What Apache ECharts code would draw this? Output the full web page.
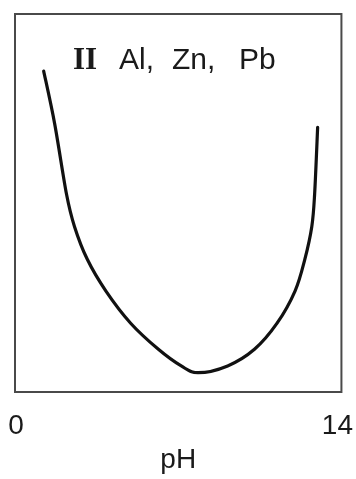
<!DOCTYPE html>
<html>
<head>
<meta charset="utf-8">
<script src="https://cdn.jsdelivr.net/npm/echarts@6/dist/echarts.min.js"></script>
<style>
  html, body { margin: 0; padding: 0; background: #fff; }
  #chart { width: 356px; height: 479px; }
</style>
</head>
<body>
<div id="chart"></div>
<script>
// Solubility (relative) of amphoteric metals versus pH
const phPoints = [1.23, 1.70, 2.21, 2.55, 3.10, 3.90, 4.96, 6.15, 7.13, 7.85, 9.12, 10.27, 11.24, 12.01, 12.43, 12.73, 12.85, 12.98];
const solubility = [84.9, 71.0, 52.3, 43.8, 35.1, 26.7, 18.2, 11.3, 6.9, 5.1, 6.9, 11.3, 18.2, 26.7, 35.1, 43.8, 52.3, 70.0];
const xTicks = [0, 14];
const xName = 'pH';
const groupLabel = 'II';
const metals = ['Al', 'Zn', 'Pb'];

const FONT = '"Liberation Sans", Arial, sans-serif';

const chart = echarts.init(document.getElementById('chart'), null, { renderer: 'canvas' });

// Smooth curve through the points: pixel positions come from the axes (api.coord),
// then consecutive points are joined with Catmull-Rom cubic segments.
function renderCurve(params, api) {
  if (params.dataIndex !== 0) return null;
  const pts = phPoints.map((p, i) => api.coord([p, solubility[i]]));
  const n = pts.length;
  let d = 'M' + pts[0][0] + ' ' + pts[0][1];
  for (let i = 0; i < n - 1; i++) {
    const p0 = pts[Math.max(i - 1, 0)];
    const p1 = pts[i];
    const p2 = pts[i + 1];
    const p3 = pts[Math.min(i + 2, n - 1)];
    const c1x = p1[0] + (p2[0] - p0[0]) / 6;
    const c1y = p1[1] + (p2[1] - p0[1]) / 6;
    const c2x = p2[0] - (p3[0] - p1[0]) / 6;
    const c2y = p2[1] - (p3[1] - p1[1]) / 6;
    d += ' C' + c1x + ' ' + c1y + ' ' + c2x + ' ' + c2y + ' ' + p2[0] + ' ' + p2[1];
  }
  return {
    type: 'path',
    shape: { pathData: d },
    style: { fill: 'none', stroke: '#111111', lineWidth: 3.2, lineCap: 'round', lineJoin: 'round' }
  };
}

chart.setOption({
  animation: false,
  backgroundColor: '#ffffff',
  title: {
    left: 68,
    top: 40,
    text: '{r|' + groupLabel + '}{a|' + metals[0] + ',}{b|' + metals[1] + ',}{c|' + metals[2] + '}',
    textStyle: {
      fontWeight: 'normal',
      rich: {
        r: { fontFamily: '"Liberation Serif", serif', fontWeight: 'bold', fontSize: 31, color: '#1a1a1a', width: 46 },
        a: { fontFamily: FONT, fontWeight: 'normal', fontSize: 30, color: '#1a1a1a', width: 53 },
        b: { fontFamily: FONT, fontWeight: 'normal', fontSize: 30, color: '#1a1a1a', width: 67 },
        c: { fontFamily: FONT, fontWeight: 'normal', fontSize: 30, color: '#1a1a1a' }
      }
    }
  },
  grid: {
    left: 15, right: 11, top: 14, bottom: 75,
    show: true,
    borderColor: '#4a4a4a',
    borderWidth: 2,
    backgroundColor: 'transparent'
  },
  xAxis: {
    type: 'value',
    min: 0,
    max: 14,
    interval: 14,
    name: xName,
    nameLocation: 'middle',
    nameGap: 54,
    nameTextStyle: { fontFamily: FONT, fontSize: 28, color: '#1a1a1a' },
    axisLine: { show: false },
    axisTick: { show: false },
    splitLine: { show: false },
    axisLabel: {
      margin: 20,
      fontFamily: FONT,
      fontSize: 28,
      color: '#1a1a1a',
      formatter: function (v) {
        if (v === xTicks[0]) return '{lo|' + v + '}';
        if (v === xTicks[1]) return '{hi|' + v + '}';
        return '';
      },
      rich: {
        lo: { fontFamily: FONT, fontSize: 28, color: '#1a1a1a', padding: [0, 0, 0, 2] },
        hi: { fontFamily: FONT, fontSize: 28, color: '#1a1a1a', padding: [0, 8, 0, 0] }
      }
    }
  },
  yAxis: {
    type: 'value',
    min: 0,
    max: 100,
    show: false
  },
  series: [{
    type: 'custom',
    renderItem: renderCurve,
    data: phPoints.map((p, i) => [p, solubility[i]]),
    encode: { x: 0, y: 1 }
  }]
});
</script>
</body>
</html>
